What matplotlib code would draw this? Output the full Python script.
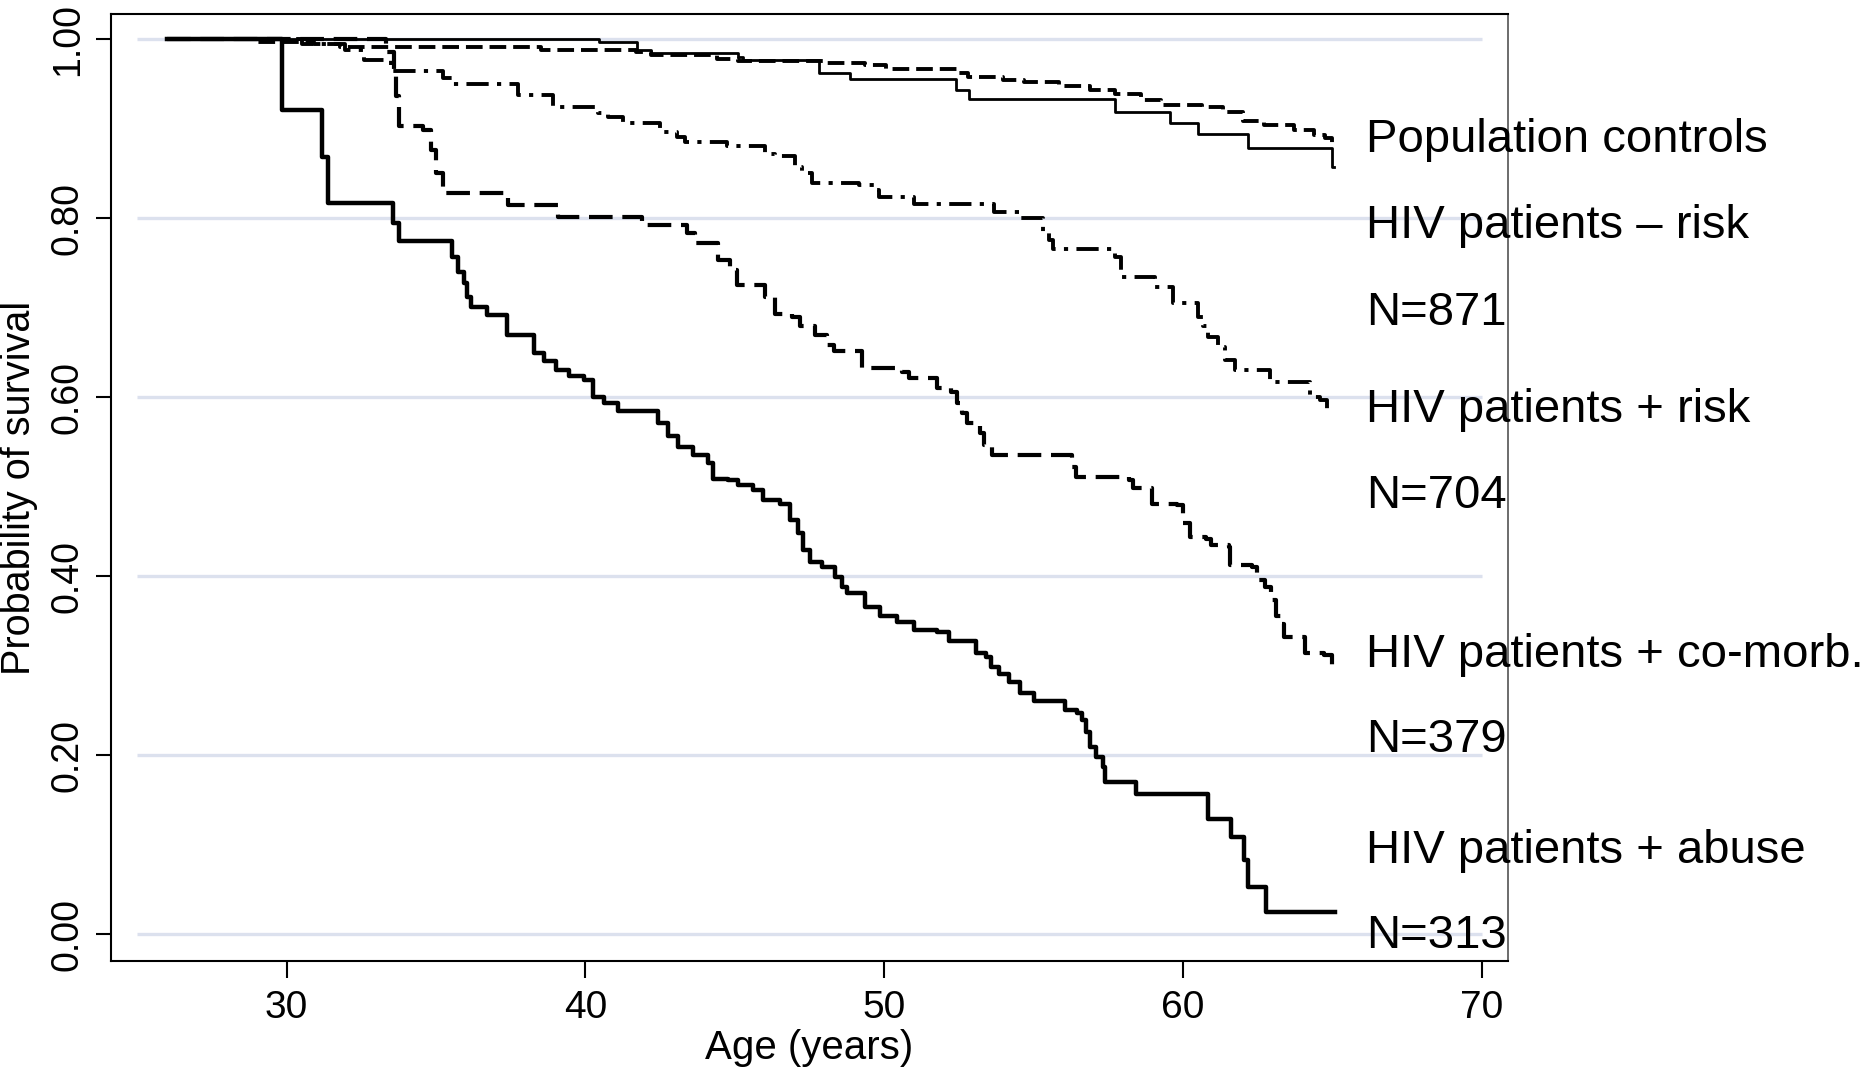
import matplotlib
matplotlib.use("Agg")
import matplotlib.pyplot as plt

# Kaplan-Meier curves:
# age at which a step happens, survival right after that step
ages_controls = [26.0, 28.9, 30.9, 31.8, 38.5, 41.68, 42.2, 44.42, 45.1, 48.0, 49.37, 50.05,
                 52.44, 52.79, 53.98, 54.67, 55.86, 56.89, 57.74, 58.59, 59.28, 60.64, 61.33,
                 62.01, 62.7, 63.72, 64.4, 64.74, 65.0, 65.05]
surv_controls = [1.0, 0.997, 0.995, 0.991, 0.988, 0.986, 0.982, 0.978, 0.976, 0.973, 0.971, 0.967,
                 0.962, 0.958, 0.954, 0.952, 0.947, 0.943, 0.939, 0.932, 0.926, 0.924, 0.919,
                 0.909, 0.904, 0.898, 0.893, 0.889, 0.880, 0.880]

ages_neg_risk = [26.0, 40.47, 41.73, 42.2, 45.1, 45.27, 47.83, 48.84, 52.41, 52.83, 57.74,
                 59.58, 60.49, 62.16, 64.99, 65.04]
surv_neg_risk = [1.0, 0.997, 0.988, 0.984, 0.980, 0.977, 0.962, 0.955, 0.943, 0.933, 0.919,
                 0.906, 0.894, 0.878, 0.857, 0.857]

ages_pos_risk = [26.0, 30.5, 31.95, 32.59, 33.49, 35.25, 35.58, 37.75, 38.92, 40.42, 40.75,
                 41.25, 42.5, 43.08, 43.33, 44.75, 46.0, 46.33, 47.0, 47.25, 47.58, 49.17,
                 49.67, 49.83, 51.0, 53.66, 54.5, 55.33, 55.5, 55.66, 57.74, 57.91, 59.08,
                 59.66, 60.49, 60.66, 60.83, 61.16, 61.41, 61.74, 62.91, 64.24, 64.57, 64.82,
                 65.0]
surv_pos_risk = [1.0, 0.995, 0.988, 0.977, 0.964, 0.956, 0.950, 0.937, 0.924, 0.917, 0.913,
                 0.906, 0.896, 0.891, 0.885, 0.880, 0.872, 0.869, 0.857, 0.850, 0.839, 0.837,
                 0.831, 0.824, 0.816, 0.807, 0.800, 0.783, 0.775, 0.766, 0.757, 0.734, 0.723,
                 0.705, 0.690, 0.679, 0.667, 0.656, 0.641, 0.630, 0.617, 0.600, 0.597, 0.584,
                 0.584]

ages_comorb = [26.0, 33.33, 33.58, 33.67, 33.75, 34.58, 34.83, 35.0, 35.25, 37.42, 39.08,
               41.91, 43.41, 43.66, 44.45, 44.84, 45.09, 46.0, 46.33, 46.92, 47.17, 47.67,
               48.09, 48.33, 49.25, 50.6, 50.83, 51.78, 52.25, 52.45, 52.6, 52.77, 53.2,
               53.35, 53.6, 56.29, 56.41, 58.21, 58.33, 58.97, 59.8, 60.0, 60.25, 60.76,
               60.95, 61.53, 61.59, 62.3, 62.49, 62.75, 62.94, 63.13, 63.32, 63.38, 64.09,
               64.73, 64.98, 65.0]
surv_comorb = [1.0, 0.985, 0.965, 0.936, 0.903, 0.898, 0.876, 0.850, 0.828, 0.815, 0.801,
               0.792, 0.783, 0.772, 0.753, 0.742, 0.725, 0.712, 0.693, 0.690, 0.679, 0.669,
               0.658, 0.651, 0.632, 0.628, 0.621, 0.610, 0.606, 0.593, 0.582, 0.571, 0.560,
               0.546, 0.535, 0.522, 0.511, 0.507, 0.498, 0.481, 0.479, 0.459, 0.444, 0.442,
               0.435, 0.433, 0.412, 0.410, 0.396, 0.388, 0.373, 0.355, 0.347, 0.332, 0.314,
               0.312, 0.301, 0.301]

ages_abuse = [26.0, 29.84, 31.2, 31.38, 33.55, 33.75, 35.55, 35.75, 35.92, 36.05, 36.17,
              36.69, 37.36, 38.27, 38.6, 39.02, 39.44, 39.94, 40.27, 40.61, 41.1, 42.44,
              42.77, 43.1, 43.6, 44.1, 44.27, 44.77, 45.1, 45.6, 45.94, 46.52, 46.85, 47.1,
              47.27, 47.52, 47.93, 48.35, 48.6, 48.77, 49.35, 49.85, 50.43, 51.01, 51.76,
              52.18, 53.08, 53.42, 53.56, 53.84, 54.19, 54.53, 55.02, 56.06, 56.47, 56.62,
              56.75, 56.89, 57.1, 57.31, 57.38, 58.42, 60.85, 61.61, 62.03, 62.17, 62.79,
              65.08]
surv_abuse = [1.0, 0.921, 0.868, 0.817, 0.795, 0.774, 0.757, 0.740, 0.727, 0.712, 0.701,
              0.692, 0.669, 0.649, 0.640, 0.630, 0.623, 0.619, 0.600, 0.593, 0.585, 0.571,
              0.556, 0.544, 0.535, 0.526, 0.509, 0.507, 0.502, 0.496, 0.485, 0.481, 0.463,
              0.448, 0.429, 0.416, 0.410, 0.399, 0.388, 0.381, 0.366, 0.355, 0.349, 0.340,
              0.338, 0.327, 0.314, 0.310, 0.299, 0.291, 0.282, 0.269, 0.261, 0.250, 0.247,
              0.239, 0.226, 0.209, 0.198, 0.187, 0.170, 0.157, 0.129, 0.109, 0.083, 0.053,
              0.025, 0.025]

# group labels written to the right of the curves
label_texts = ["Population controls", "HIV patients \u2013 risk", "N=871",
               "HIV patients + risk", "N=704", "HIV patients + co-morb.", "N=379",
               "HIV patients + abuse", "N=313"]
label_y = [0.874, 0.778, 0.680, 0.572, 0.476, 0.299, 0.203, 0.080, -0.016]

x_ticks = [30, 40, 50, 60, 70]
y_ticks = [0.0, 0.2, 0.4, 0.6, 0.8, 1.0]
y_tick_labels = ["0.00", "0.20", "0.40", "0.60", "0.80", "1.00"]


def draw():
    plt.rcParams['font.family'] = ['Liberation Sans', 'DejaVu Sans']
    plt.rcParams['lines.scale_dashes'] = False

    fig = plt.figure(figsize=(18.68, 10.68), dpi=100)
    ax = fig.add_axes([0.0594, 0.1002, 0.7479, 0.8867])

    # light grid lines, only between 25 and 70 like in the original
    ax.hlines(y_ticks, 25, 70, colors='#dce1ee', linewidth=2.4, zorder=1)

    ax.step(ages_controls, surv_controls, where='post', color='black', lw=2.8,
            ls=(0, (12, 5)), zorder=3)
    ax.step(ages_neg_risk, surv_neg_risk, where='post', color='black', lw=2.0,
            ls='-', zorder=3)
    ax.step(ages_pos_risk, surv_pos_risk, where='post', color='black', lw=2.8,
            ls=(0, (16, 6, 3, 6)), zorder=3)
    ax.step(ages_comorb, surv_comorb, where='post', color='black', lw=3.0,
            ls=(0, (17, 7)), zorder=3)
    ax.step(ages_abuse, surv_abuse, where='post', color='black', lw=3.2,
            ls='-', zorder=3)

    for txt, yy in zip(label_texts, label_y):
        ax.text(66.13, yy, txt, fontsize=34, color='black', ha='left', va='baseline',
                clip_on=False, zorder=5)

    ax.set_xlim(24.12, 70.88)
    ax.set_ylim(-0.030, 1.028)
    ax.set_xticks(x_ticks)
    ax.set_xticklabels([str(v) for v in x_ticks], fontsize=28)
    ax.set_yticks(y_ticks)
    ax.set_yticklabels(y_tick_labels, fontsize=27, rotation=90, va='center')
    ax.tick_params(axis='x', direction='out', length=12, width=1.5, pad=9, colors='black')
    ax.tick_params(axis='y', direction='out', length=11, width=1.5, pad=7, colors='black')

    for side in ['left', 'bottom', 'top', 'right']:
        ax.spines[side].set_linewidth(1.5)
        ax.spines[side].set_color('black')
    ax.spines['right'].set_linewidth(1.1)
    ax.spines['right'].set_color('#444444')

    ax.set_xlabel('Age (years)', fontsize=29, va='center')
    ax.xaxis.set_label_coords(0.5, -0.092)
    ax.set_ylabel('Probability of survival', fontsize=28.5, va='center')
    ax.yaxis.set_label_coords(-0.066, 0.5)

    fig.savefig('out.png', dpi=100)


if __name__ == "__main__":
    draw()
